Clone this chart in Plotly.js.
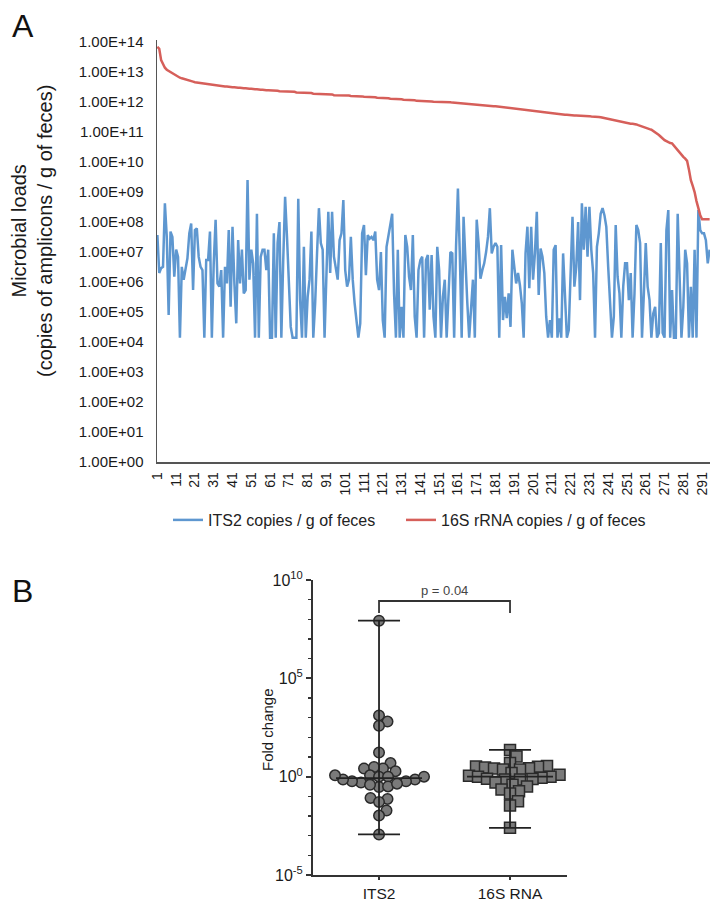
<!DOCTYPE html>
<html><head><meta charset="utf-8">
<script src="https://cdn.plot.ly/plotly-3.0.1.min.js"></script>
<style>html,body{margin:0;padding:0;background:#fff}#chart{width:712px;height:901px}</style>
</head><body><div id="chart"></div>
<script>
// ---------- Panel A data ----------
const its2Loads = [
3.7e7,2e6,2.9e6,3.2e6,4.2e8,3.2e7,8e4,4.8e7,3.2e7,1.5e6,
1.2e7,6.9e6,1.4e4,3.2e6,1.2e6,3.2e6,6.2e6,4.2e7,9e7,5.4e5,
5.4e7,6.2e7,6.9e6,3.2e6,2.5e6,1.4e4,5.4e6,5.4e6,4.8e7,1.4e4,
4.2e6,1.2e8,9e5,7e5,2.5e6,1.4e4,3.2e6,9e5,5.4e7,1.5e5,
7e7,9e5,4.2e4,2.5e7,9e5,1.2e7,4.2e5,5.4e5,2.5e9,1.2e6,
1.2e7,4.2e6,1.4e4,1.9e8,1.4e4,6.9e6,1.2e7,1.2e7,2.5e6,1.2e7,
1.4e4,1.4e4,4.2e7,1.4e4,2e7,1e8,1.4e4,5.4e6,7e8,3.2e7,
1.2e6,
3.2e4,1.4e4,1.4e4,1.4e4,6e8,2.5e5,1.4e4,1.5e7,1.4e4,3.2e5,
1.2e6,4.8e7,1.4e4,2e5,9e6,2.9e8,2e7,1.2e7,1.4e4,9e5,
2.2e8,2e6,2.2e8,7e6,2.5e6,1.2e6,2.5e7,4.2e7,5.4e8,2.5e6,
7e5,1.2e6,3.2e7,1.2e6,2e5,4.2e4,1.4e4,4.2e4,4.2e7,8e7,
1.7e6,3.7e7,2.8e7,3.2e7,2.5e7,4.8e7,1.2e6,5.4e5,1e7,5.4e4,
1.4e4,1.5e7,3.2e7,7e7,1.9e8,4.2e5,1.4e4,1.2e7,1.4e4,1.5e5,
1.4e4,3.7e7,1.5e7,1.5e6,5.4e5,3.7e7,7e4,1.4e4,2.5e6,5.4e6,
7e6,1.4e4,5.4e6,8e6,1.2e5,
8e6,7e4,1.4e4,1.5e7,2.5e6,1.4e4,3.2e5,1.2e6,1.4e4,5.4e5,
1e7,9e6,1.4e4,1.5e7,1.3e9,9e6,1.4e4,1.5e8,2.5e6,2e5,
1.4e4,1.2e5,1.2e6,1.4e4,1.2e8,2e7,1.3e6,2.5e6,4.2e6,1e7,
3.2e7,2.9e8,9e6,1.5e7,2e7,1.5e7,1.4e4,1.7e7,5.4e4,3.2e5,
6.2e4,4.2e5,3.2e4,1.2e7,3.2e6,9e5,2e6,8e5,2e5,1.4e4,
9e6,7e7,6.2e5,7e7,1.2e6,9e6,2.2e8,3.7e5,1.3e7,7e6,
2e6,7e4,1.4e4,5.4e4,1.4e4,1.2e7,1.7e7,1.4e4,6.2e4,1.4e4,
9e6,2e5,1.4e4,2.5e4,2.5e6,1.5e8,
7e5,3.2e6,1e8,2.5e5,4.2e8,1.2e7,3.2e8,7e6,3.2e8,1.2e7,
2e6,1.4e4,1.5e7,4.2e7,1.9e8,2.9e8,1.7e8,7e7,3.2e6,2.5e5,
1.4e4,7e4,8e7,1.5e6,4.2e5,1.4e4,7e5,4.2e6,4.2e6,2.5e5,
2e6,1.4e4,4.2e5,8e7,5.4e7,2e7,1.4e4,4.2e5,2e7,7e5,
2.5e5,1.4e4,9e4,1.5e5,1.4e4,2e4,2e7,2e4,1.4e4,5.4e7,
2.5e8,1.4e4,5.4e5,1.4e4,1.4e4,1.9e8,7e5,1.4e4,1.5e5,1.2e7,
4.2e6,1.4e4,7e5,1.4e4,1.2e7,1.4e4,2.5e8,5.4e7,4.2e7,4.2e7,
2.5e7,4.2e6,1.2e7
];
const rrnaLoads = [
7e13,6e13,2.5e13,1.8e13,1.4e13,1.2e13,1.1e13,1e13,9e12,8e12,
7.5e12,7e12,6.5e12,6.2e12,6e12,5.6e12,5.4e12,5.2e12,5e12,4.8e12,
4.6e12,4.5e12,4.4e12,4.3e12,4.2e12,4.1e12,4e12,3.9e12,3.8e12,3.7e12,
3.6e12,3.6e12,3.5e12,3.5e12,3.4e12,3.4e12,3.3e12,3.3e12,3.2e12,3.2e12,
3.1e12,3.1e12,3e12,3e12,3e12,2.9e12,2.9e12,2.9e12,2.8e12,2.8e12,
2.8e12,2.7e12,2.7e12,2.7e12,2.6e12,2.6e12,2.6e12,2.5e12,2.5e12,2.5e12,
2.5e12,2.4e12,2.4e12,2.4e12,2.4e12,2.3e12,2.3e12,2.3e12,2.3e12,2.3e12,
2.2e12,2.2e12,2.2e12,2.2e12,2.1e12,2.1e12,2.1e12,2.1e12,2e12,2e12,
2e12,2e12,2e12,1.9e12,1.9e12,1.9e12,1.9e12,1.9e12,1.9e12,1.8e12,
1.8e12,1.8e12,1.8e12,1.8e12,1.7e12,1.7e12,1.7e12,1.7e12,1.7e12,1.7e12,
1.65e12,1.65e12,1.65e12,1.6e12,1.6e12,1.6e12,1.6e12,1.6e12,1.55e12,1.55e12,
1.5e12,1.5e12,1.5e12,1.5e12,1.45e12,1.45e12,1.45e12,1.4e12,1.4e12,1.4e12,
1.4e12,1.35e12,1.35e12,1.35e12,1.3e12,1.3e12,1.3e12,1.3e12,1.25e12,1.25e12,
1.25e12,1.2e12,1.2e12,1.2e12,1.2e12,1.15e12,1.15e12,1.15e12,1.1e12,1.1e12,
1.1e12,1.1e12,1.08e12,1.08e12,1.05e12,1.05e12,1.05e12,1.03e12,1.03e12,1.02e12,
1.01e12,1e12,1e12,1e12,1e12,1e12,9.8e11,9.6e11,9.5e11,9.4e11,
9.2e11,9.1e11,9e11,8.9e11,8.8e11,8.6e11,8.5e11,8.4e11,8.3e11,8.2e11,
8.1e11,8e11,8e11,7.9e11,7.8e11,7.7e11,7.6e11,7.5e11,7.4e11,7.3e11,
7.2e11,7.1e11,7e11,6.9e11,6.8e11,6.7e11,6.6e11,6.5e11,6.4e11,6.3e11,
6.2e11,6.1e11,6e11,5.9e11,5.8e11,5.7e11,5.6e11,5.5e11,5.4e11,5.3e11,
5.2e11,5.1e11,5e11,4.9e11,4.8e11,4.7e11,4.6e11,4.5e11,4.4e11,4.3e11,
4.2e11,4.1e11,4.1e11,4e11,4e11,3.9e11,3.9e11,3.8e11,3.8e11,3.7e11,
3.7e11,3.7e11,3.6e11,3.6e11,3.6e11,3.5e11,3.5e11,3.5e11,3.4e11,3.4e11,
3.4e11,3.3e11,3.3e11,3.3e11,3.2e11,3.2e11,3.1e11,3e11,3e11,2.9e11,
2.8e11,2.7e11,2.6e11,2.5e11,2.4e11,2.3e11,2.3e11,2.2e11,2.1e11,2.1e11,
2e11,2e11,1.9e11,1.9e11,1.9e11,1.8e11,1.7e11,1.6e11,1.5e11,1.45e11,
1.4e11,1.3e11,1.25e11,1.2e11,1.1e11,1e11,9e10,8e10,7e10,6e10,
5.4e10,5e10,4.6e10,4.3e10,4.2e10,3.5e10,3e10,2.5e10,2.2e10,1.8e10,
1.5e10,1.3e10,1.1e10,5.6e9,2.5e9,1.6e9,1e9,5e8,2.9e8,1.7e8,
1.23e8,1.23e8,1.23e8,1.23e8,1.23e8
];
const seriesNames = ['ITS2 copies / g of feces', '16S rRNA copies / g of feces'];
const sampleTickVals = [1,11,21,31,41,51,61,71,81,91,101,111,121,131,141,151,161,171,181,191,201,211,221,231,241,251,261,271,281,291];
const loadTickVals = [1,1e1,1e2,1e3,1e4,1e5,1e6,1e7,1e8,1e9,1e10,1e11,1e12,1e13,1e14];
const loadTickText = ['1.00E+00','1.00E+01','1.00E+02','1.00E+03','1.00E+04','1.00E+05','1.00E+06','1.00E+07','1.00E+08','1.00E+09','1.00E+10','1.00E+11','1.00E+12','1.00E+13','1.00E+14'];
const loadAxisTitle = 'Microbial loads<br>(copies of amplicons / g of feces)';

// ---------- Panel B data ----------
const foldCategories = ['ITS2', '16S RNA'];
const foldITS2 = [8.5e7,1.3e3,6.3e2,3.9e2,17,4.9,2.6,1.9,2.6,3.1,1.17,1.0,0.71,0.58,0.5,0.58,0.71,1.0,1.0,1.17,0.3,0.39,0.32,0.44,0.074,0.083,0.052,0.019,0.0105,0.00115];
const fold16S = [23,10.7,4.9,3.5,3.3,3.2,2.9,2.7,2.6,2.3,2.3,1.55,1.26,1.12,1.0,1.0,0.89,0.79,0.76,0.71,0.71,0.5,0.39,0.32,0.22,0.18,0.14,0.056,0.034,0.0025];
const foldTickVals = [1e-5,1,1e5,1e10];
const foldTickText = ['10<sup>-5</sup>','10<sup>0</sup>','10<sup>5</sup>','10<sup>10</sup>'];
const foldMinorVals = [1e-4,1e-3,1e-2,1e-1,1e1,1e2,1e3,1e4,1e6,1e7,1e8,1e9];
const foldAxisTitle = 'Fold change';
const pValueText = 'p = 0.04';

// ---------- layout geometry ----------
const W = 712, H = 901;
const xDomA = [157/W, 710/W], yDomA = [1-462/H, 1-40/H];
const xDomB = [313/W, 567/W], yDomB = [1-875/H, 1-580/H];
const xRangeB = [-0.504, 1.435], yRangeB = [-5, 10];
const pxPerUnitB = (xDomB[1]-xDomB[0])*W/(xRangeB[1]-xRangeB[0]);
const pxPerDecB = (yDomB[1]-yDomB[0])*H/(yRangeB[1]-yRangeB[0]);

function swarm(vals, center, diam) {
  const order = vals.map((v,i)=>i).sort((a,b)=>vals[a]-vals[b]);
  const placed = [];
  const xs = new Array(vals.length);
  for (const i of order) {
    const py = Math.log10(vals[i])*pxPerDecB;
    let px = 0;
    for (let k=0; k<1000; k++) {
      const c = (k%2 ? 1 : -1) * Math.ceil(k/2) * 0.5;
      let ok = true;
      for (const p of placed) {
        const dx = p[0]-c, dy = p[1]-py;
        if (dx*dx+dy*dy < diam*diam) { ok = false; break; }
      }
      if (ok) { px = c; break; }
    }
    placed.push([px, py]);
    xs[i] = center + px/pxPerUnitB;
  }
  return xs;
}
function median(a){const s=[...a].sort((x,y)=>x-y);const n=s.length;return n%2?s[(n-1)/2]:Math.sqrt(s[n/2-1]*s[n/2]);}

const traces = [
  {x: its2Loads.map((_, i) => i + 1), y: its2Loads, type:'scatter', mode:'lines', name: seriesNames[0],
   line:{color:'#5e97d0', width:2.5}, xaxis:'x', yaxis:'y', legend:'legend'},
  {x: rrnaLoads.map((_, i) => i + 1), y: rrnaLoads, type:'scatter', mode:'lines', name: seriesNames[1],
   line:{color:'#d65f5a', width:2.5}, xaxis:'x', yaxis:'y', legend:'legend2'}
];
const groups = [foldITS2, fold16S];
const symbols = ['circle', 'square'];
groups.forEach((g, gi) => {
  traces.push({x: swarm(g, gi, 9), y: g, type:'scatter', mode:'markers', showlegend:false,
    marker:{symbol:symbols[gi], size: gi ? 11 : 10.5, color:'#7a7a7a', line:{color:'#2a2a2a', width:1.5}},
    xaxis:'x2', yaxis:'y2', hoverinfo:'y'});
});
groups.forEach((g, gi) => {
  const mx = Math.max(...g), mn = Math.min(...g), md = median(g);
  const cap = 21/pxPerUnitB, mw = 43/pxPerUnitB;
  const ln = {color:'#222', width:1.8};
  traces.push({x:[gi,gi], y:[mn,mx], type:'scatter', mode:'lines', showlegend:false, line:ln, xaxis:'x2', yaxis:'y2', hoverinfo:'skip'});
  traces.push({x:[gi-cap,gi+cap], y:[mx,mx], type:'scatter', mode:'lines', showlegend:false, line:ln, xaxis:'x2', yaxis:'y2', hoverinfo:'skip'});
  traces.push({x:[gi-cap,gi+cap], y:[mn,mn], type:'scatter', mode:'lines', showlegend:false, line:ln, xaxis:'x2', yaxis:'y2', hoverinfo:'skip'});
  traces.push({x:[gi-mw,gi+mw], y:[md,md], type:'scatter', mode:'lines', showlegend:false, line:ln, xaxis:'x2', yaxis:'y2', hoverinfo:'skip'});
});

const legendBase = {orientation:'h', y:1-520/H, xanchor:'left', yanchor:'middle',
  font:{size:16, color:'#222'}, bgcolor:'rgba(0,0,0,0)'};
const layout = {
  width: W, height: H, margin:{l:0,r:0,t:0,b:0, autoexpand:false},
  paper_bgcolor:'#fff', plot_bgcolor:'rgba(0,0,0,0)',
  font:{family:'Liberation Sans, Arial, sans-serif', color:'#1a1a1a'},
  showlegend:true,
  legend:Object.assign({x:168/W}, legendBase),
  legend2:Object.assign({x:401/W}, legendBase),
  xaxis:{domain:xDomA, range:[0.8,295.2], tickmode:'array', tickvals:sampleTickVals, tickangle:-90,
    showline:true, linecolor:'#555', linewidth:1.5, showgrid:false, zeroline:false, ticks:'',
    ticklabelstandoff:3, tickfont:{size:14}, anchor:'y', fixedrange:true},
  yaxis:{domain:yDomA, type:'log', range:[0,14.07], tickmode:'array', tickvals:loadTickVals, ticktext:loadTickText,
    showline:true, linecolor:'#555', linewidth:1.5, showgrid:false, zeroline:false, ticks:'',
    ticklabelstandoff:9, tickfont:{size:15}, anchor:'x'},
  xaxis2:{domain:xDomB, range:xRangeB, tickmode:'array', tickvals:[0,1], ticktext:foldCategories,
    ticks:'outside', ticklen:3, tickwidth:2, tickcolor:'#333', showline:true, linecolor:'#333', linewidth:2,
    showgrid:false, zeroline:false, tickfont:{size:15.5}, anchor:'y2'},
  yaxis2:{domain:yDomB, type:'log', range:yRangeB, tickmode:'array', tickvals:foldTickVals, ticktext:foldTickText,
    ticks:'outside', ticklen:5, tickwidth:2, tickcolor:'#333',
    minor:{tickmode:'array', tickvals:foldMinorVals, ticks:'outside', ticklen:3, tickwidth:1.5, tickcolor:'#333'},
    showline:true, linecolor:'#333', linewidth:2, showgrid:false, zeroline:false, tickfont:{size:16}, anchor:'x2'},
  shapes:[{type:'path', xref:'x2', yref:'paper', path:`M0,${1-613/H} L0,${1-601/H} L1,${1-601/H} L1,${1-613/H}`,
    line:{color:'#333', width:1.8}}],
  annotations:[
    {text:loadAxisTitle, x:32/W, y:1-231/H, xref:'paper', yref:'paper', xanchor:'center', yanchor:'middle',
     textangle:-90, showarrow:false, font:{size:20, color:'#1a1a1a'}},
    {text:foldAxisTitle, x:267/W, y:1-730/H, xref:'paper', yref:'paper', xanchor:'center', yanchor:'middle',
     textangle:-90, showarrow:false, font:{size:15, color:'#1a1a1a'}},
    {text:'A', x:10/W, y:1-6/H, xref:'paper', yref:'paper', xanchor:'left', yanchor:'top', showarrow:false, font:{size:32, color:'#111'}},
    {text:'B', x:10/W, y:1-571/H, xref:'paper', yref:'paper', xanchor:'left', yanchor:'top', showarrow:false, font:{size:32, color:'#111'}},
    {text:pValueText, x:0.5, y:1-590/H, xref:'x2', yref:'paper', xanchor:'center', yanchor:'middle', showarrow:false, font:{size:13, color:'#444'}}
  ]
};
Plotly.newPlot('chart', traces, layout, {staticPlot:true, displayModeBar:false});
</script></body></html>
